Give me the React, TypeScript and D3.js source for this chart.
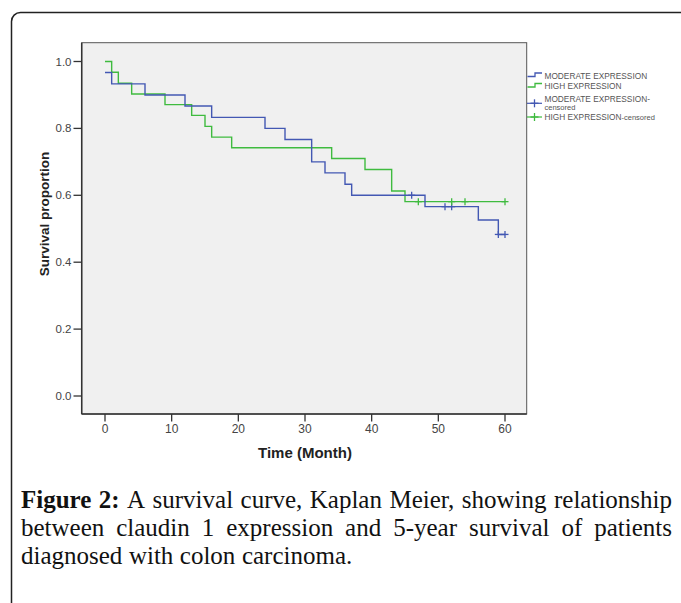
import React, { useEffect, useRef } from "react";
import * as d3 from "d3";

// Kaplan-Meier steps (time in months, survival after the event)
const moderateTimes = [0, 1, 6, 12, 16, 24, 27, 31, 33, 36, 37, 48, 56, 59];
const moderateSurvival = [0.967, 0.933, 0.9, 0.867, 0.833, 0.8, 0.767, 0.7, 0.667, 0.633, 0.6, 0.566, 0.526, 0.483];
const moderateEnd = 60;
const moderateCensored = [46, 51, 52, 59, 60];

const highTimes = [0, 1, 2, 4, 9, 13, 15, 16, 19, 34, 39, 43, 45];
const highSurvival = [1.0, 0.968, 0.935, 0.903, 0.871, 0.839, 0.806, 0.774, 0.742, 0.71, 0.677, 0.613, 0.581];
const highEnd = 60;
const highCensored = [47, 52, 54, 60];

const xTicks = [0, 10, 20, 30, 40, 50, 60];
const yTicks = [0, 0.2, 0.4, 0.6, 0.8, 1.0];

const xTitle = "Time (Month)";
const yTitle = "Survival proportion";

const captionLabel = ["Figure", "2:"];
const captionLines = [
  "A survival curve, Kaplan Meier, showing relationship",
  "between claudin 1 expression and 5-year survival of patients",
  "diagnosed with colon carcinoma.",
];

const BLUE = "#4358b3";
const GREEN = "#3fbb3f";

function survAt(times: number[], surv: number[], t: number) {
  let v = surv[0];
  times.forEach((tt, i) => {
    if (tt <= t) v = surv[i];
  });
  return v;
}

export default function App() {
  const capRef = useRef<SVGGElement>(null);

  // plot frame
  const plot = { left: 81.7, right: 526.7, top: 42.7, bottom: 414 };

  const x = d3.scaleLinear().domain([0, 60]).range([105, 505]);
  const y = d3.scaleLinear().domain([0, 1]).range([396, 61.5]);

  const stepLine = d3
    .line<[number, number]>()
    .x((d) => x(d[0]))
    .y((d) => y(d[1]))
    .curve(d3.curveStepAfter);

  const modPts: [number, number][] = moderateTimes.map((t, i) => [t, moderateSurvival[i]]);
  modPts.push([moderateEnd, moderateSurvival[moderateSurvival.length - 1]]);
  const highPts: [number, number][] = highTimes.map((t, i) => [t, highSurvival[i]]);
  highPts.push([highEnd, highSurvival[highSurvival.length - 1]]);

  const plus = (cx: number, cy: number, color: string, key: string, half = 3.5) => (
    <g key={key} stroke={color} strokeWidth={1.3}>
      <line x1={cx - half} x2={cx + half} y1={cy} y2={cy} />
      <line x1={cx} x2={cx} y1={cy - half} y2={cy + half} />
    </g>
  );

  useEffect(() => {
    const g = d3.select(capRef.current);
    g.selectAll("*").remove();
    const left = 21;
    const right = 672;
    const top = 508;
    const leading = 28;
    captionLines.forEach((line, i) => {
      const words = line.split(" ").map((w) => ({ w, bold: false }));
      if (i === 0) words.unshift(...captionLabel.map((w) => ({ w, bold: true })));
      const texts = words.map((d) =>
        g
          .append("text")
          .attr("y", top + i * leading)
          .attr("font-weight", d.bold ? "bold" : "normal")
          .text(d.w)
      );
      const widths = texts.map((t) => (t.node() as SVGTextElement).getComputedTextLength());
      const total = d3.sum(widths);
      const justify = i < captionLines.length - 1;
      const gap = justify ? (right - left - total) / (words.length - 1) : 6.5;
      let cx = left;
      texts.forEach((t, k) => {
        t.attr("x", cx);
        cx += widths[k] + gap;
      });
    });
  }, []);

  return (
    <svg
      width={681}
      height={603}
      style={{ position: "absolute", left: 0, top: 0, background: "#fff" }}
      fontFamily="'Liberation Sans', Arial, sans-serif"
    >
      <rect x={11.5} y={12.5} width={720} height={640} rx={9} fill="none" stroke="#222" strokeWidth={1.5} />

      {/* plot area */}
      <rect
        x={plot.left}
        y={plot.top}
        width={plot.right - plot.left}
        height={plot.bottom - plot.top}
        fill="#f0f0f0"
        stroke="#555"
        strokeWidth={1}
      />
      <line x1={plot.left} x2={plot.left} y1={plot.top} y2={plot.bottom} stroke="#333" strokeWidth={1.5} />
      <line x1={plot.left} x2={plot.right} y1={plot.bottom} y2={plot.bottom} stroke="#333" strokeWidth={1.5} />

      {/* y axis */}
      {yTicks.map((t) => (
        <g key={"y" + t}>
          <line x1={73.5} x2={plot.left} y1={y(t)} y2={y(t)} stroke="#333" strokeWidth={1.3} />
          <text x={71.5} y={y(t)} dy="0.35em" textAnchor="end" fontSize={11.5} fill="#444">
            {t.toFixed(1)}
          </text>
        </g>
      ))}
      <text
        transform={`translate(49,214) rotate(-90)`}
        textAnchor="middle"
        fontSize={13.5}
        fontWeight="bold"
        fill="#222"
      >
        {yTitle}
      </text>

      {/* x axis */}
      {xTicks.map((t) => (
        <g key={"x" + t}>
          <line x1={x(t)} x2={x(t)} y1={plot.bottom} y2={421.5} stroke="#333" strokeWidth={1.3} />
          <text x={x(t)} y={432.5} textAnchor="middle" fontSize={12} fill="#444">
            {t}
          </text>
        </g>
      ))}
      <text x={305} y={458} textAnchor="middle" fontSize={15} fontWeight="bold" fill="#222">
        {xTitle}
      </text>

      {/* curves */}
      <path d={stepLine(highPts) ?? ""} fill="none" stroke={GREEN} strokeWidth={1.4} />
      <path d={stepLine(modPts) ?? ""} fill="none" stroke={BLUE} strokeWidth={1.4} />
      {moderateCensored.map((t, i) =>
        plus(x(t), y(survAt(moderateTimes, moderateSurvival, t)), BLUE, "mc" + i)
      )}
      {highCensored.map((t, i) => plus(x(t), y(survAt(highTimes, highSurvival, t)), GREEN, "hc" + i))}

      {/* legend */}
      <g fontSize={8.3} fill="#555">
        <path d="M527.5,76.5 H535 V73 H542" fill="none" stroke={BLUE} strokeWidth={1.3} />
        <text x={544.5} y={75.7} dy="0.35em">MODERATE EXPRESSION</text>
        <path d="M527.5,87 H535 V83.5 H542" fill="none" stroke={GREEN} strokeWidth={1.3} />
        <text x={544.5} y={86} dy="0.35em">HIGH EXPRESSION</text>
        {plus(534.5, 103.3, BLUE, "lm", 4)}
        <line x1={527} x2={542} y1={103.3} y2={103.3} stroke={BLUE} strokeWidth={1.2} />
        <text x={544.5} y={99} dy="0.35em">MODERATE EXPRESSION-</text>
        <text x={544.5} y={107} dy="0.35em" fontSize={7.5}>censored</text>
        {plus(534.5, 117, GREEN, "lh", 4)}
        <line x1={527} x2={542} y1={117} y2={117} stroke={GREEN} strokeWidth={1.2} />
        <text x={544.5} y={117.3} dy="0.35em">
          HIGH EXPRESSION<tspan fontSize={7.5}>-censored</tspan>
        </text>
      </g>

      {/* caption */}
      <g ref={capRef} fontFamily="'Liberation Serif', 'Times New Roman', serif" fontSize={25} fill="#111" />
    </svg>
  );
}
